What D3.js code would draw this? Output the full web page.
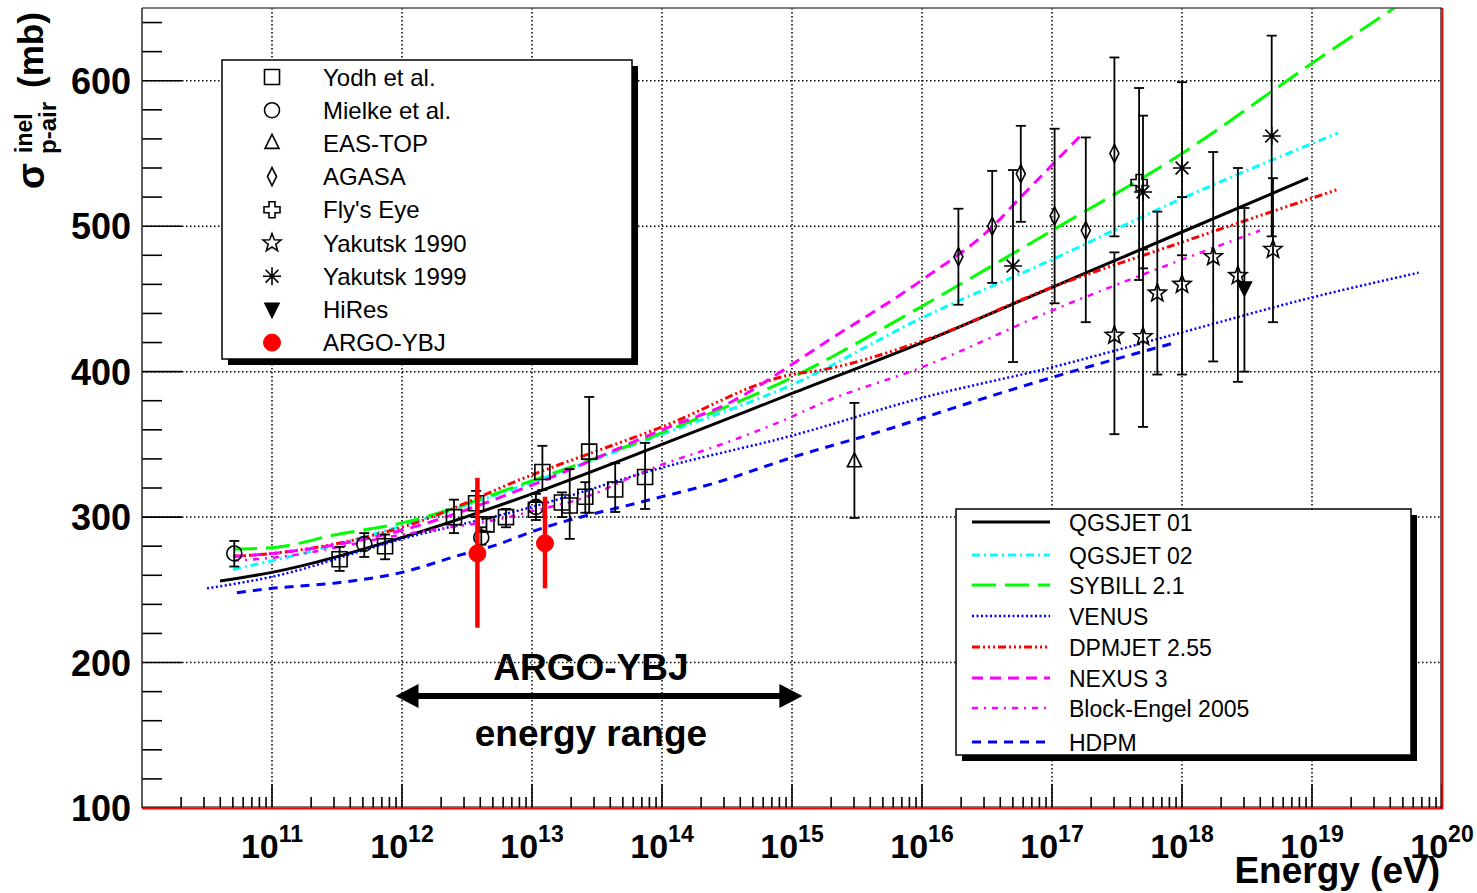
<!DOCTYPE html>
<html>
<head>
<meta charset="utf-8">
<script src="https://cdn.jsdelivr.net/npm/d3@7"></script>
<style>
  body { margin: 0; background: #fff; }
  text { font-family: "Liberation Sans", Arial, Helvetica, sans-serif; }
</style>
</head>
<body>
<div id="chart"></div>
<script>
// ---- data (energy as log10(E/eV), cross section in mb) ----
var xTickExp = [11, 12, 13, 14, 15, 16, 17, 18, 19, 20];
var yTicks = [100, 200, 300, 400, 500, 600];

// model curves [log10 E, sigma]
var qgsjet01 = [[10.6,256],[11,262],[12,286],[13,316],[14,350],[15,385],[16,420],[17,458],[18,496],[18.97,533]];
var qgsjet02 = [[10.7,264],[11,270],[12,294],[13,324],[14,357],[15,391],[16,437],[17,477],[18,519],[19.2,564]];
var sybill = [[10.7,278],[11,279],[11.5,288],[12,296],[13,325],[14,358],[15,396],[16,445],[17,497],[18,550],[19,612],[19.65,651]];
var venus = [[10.5,251],[11,259],[12,285],[13,307],[14,334],[15,356],[16,382],[17,403],[18,427],[19,451],[19.82,468]];
var dpmjet = [[10.7,273],[11,275],[12,293],[13,329],[14,362],[15,398],[15.22,401],[16,421],[17,458],[18,489],[19.19,525]];
var nexus = [[10.7,273],[11,275],[12,291],[13,322],[14,360],[14.55,380],[15,405],[15.22,418],[16,463],[16.54,499.5],[16.76,520],[17,542],[17.25,565]];
var blockEngel = [[10.7,270],[11,272],[12,288],[12.82,300],[13,304],[13.39,313],[13.88,332],[14.55,353],[15,369],[15.22,378],[16,403],[17,442],[18,477],[18.6,497]];
var hdpm = [[10.73,248],[11,251],[11.52,255],[12,262],[12.45,274],[12.73,281],[13,290],[13.91,312],[14.39,323],[15,341],[15.83,363],[16,368],[17,396],[17.95,420]];

// measurements [log10 E, sigma, low, high]
var yodh = [[11.52,271,263,279.5],[11.87,280,271,288],[12.40,300,289,312],[12.57,309.5,300,318],[12.65,295,290,299],
            [12.80,300,293,305.6],[13.03,305,300,311],[13.08,331,318.6,349],[13.23,310,300,317],[13.29,308,285,333],
            [13.41,314,303,324],[13.44,345,303,382.6],[13.64,319,303.5,337],[13.87,327.6,305.6,351]];
var mielke = [[10.71,275,266,283.6],[11.71,281.5,272.6,289],[12.61,286,281,293],[13.03,307,298,316]];
var easTop = [[15.48,338,299.4,378.5]];
var agasa = [[16.28,479,446,512],[16.54,500,461,538],[16.76,536,503,569],[17.02,507,447,567],[17.26,497,434,561],[17.48,550,493,616]];
var flysEye = [[17.67,530,463,595]];
var yakutsk1990 = [[17.48,425,357,482],[17.70,424,362,484],[17.81,454,398,510],[18.0,460,398,520],[18.24,479,407,551],[18.43,466,393,540],[18.70,484,434,533]];
var yakutsk1999 = [[16.70,472.6,406.6,538.6],[17.70,523.5,471,576],[18.0,540,480,599],[18.69,562,493,631]];
var hires = [[18.48,457.5,400,512.5]];
var argo = [[12.58,275,224,327],[13.10,282,251,314]];

var argoRange = [11.95, 15.08];   // arrow ends, log10 E
var argoRangeSigma = 177;

var models = [
  { name: "QGSJET 01", data: qgsjet01, color: "#000000", dash: null, w: 3 },
  { name: "QGSJET 02", data: qgsjet02, color: "#00ffff", dash: "8 4 2 4", w: 3 },
  { name: "SYBILL 2.1", data: sybill, color: "#00ff00", dash: "24 9", w: 3 },
  { name: "VENUS", data: venus, color: "#0000ff", dash: "2 2.5", w: 2.5 },
  { name: "DPMJET 2.55", data: dpmjet, color: "#ff0000", dash: "8 3 2 3 2 3 2 3", w: 3 },
  { name: "NEXUS 3", data: nexus, color: "#ff00ff", dash: "11 7", w: 3 },
  { name: "Block-Engel 2005", data: blockEngel, color: "#ff00ff", dash: "6 6 2 6", w: 2.5 },
  { name: "HDPM", data: hdpm, color: "#0000ff", dash: "9 7", w: 3 }
];

var measures = [
  { name: "Yodh et al.", data: yodh, shape: "square" },
  { name: "Mielke et al.", data: mielke, shape: "circle" },
  { name: "EAS-TOP", data: easTop, shape: "triangle" },
  { name: "AGASA", data: agasa, shape: "diamond" },
  { name: "Fly's Eye", data: flysEye, shape: "cross" },
  { name: "Yakutsk 1990", data: yakutsk1990, shape: "star" },
  { name: "Yakutsk 1999", data: yakutsk1999, shape: "asterisk" },
  { name: "HiRes", data: hires, shape: "down" },
  { name: "ARGO-YBJ", data: argo, shape: "dot" }
];

// ---- layout ----
var W = 1477, H = 893;
var pL = 142, pR = 1442, pT = 8, pB = 808;

var svg = d3.select("#chart").append("svg")
  .attr("width", W).attr("height", H)
  .attr("viewBox", `0 0 ${W} ${H}`);

var x = d3.scaleLog().domain([1e10, 1e20]).range([pL, pR]);
var y = d3.scaleLinear().domain([100, 650]).range([pB, pT]);
var X = function (e) { return x(Math.pow(10, e)); };

svg.append("clipPath").attr("id", "plotclip")
  .append("rect").attr("x", pL).attr("y", pT).attr("width", pR - pL).attr("height", pB - pT);

// grid
var grid = svg.append("g").attr("stroke", "#000").attr("stroke-width", 1.5).attr("stroke-dasharray", "1.5 2.5");
grid.selectAll("line.v").data(xTickExp.slice(0, -1)).enter().append("line")
  .attr("x1", function (d) { return X(d); }).attr("x2", function (d) { return X(d); })
  .attr("y1", pT).attr("y2", pB);
grid.selectAll("line.h").data(yTicks.slice(1)).enter().append("line")
  .attr("y1", function (d) { return y(d); }).attr("y2", function (d) { return y(d); })
  .attr("x1", pL).attr("x2", pR);

// ticks
var ticks = svg.append("g").attr("stroke", "#000").attr("stroke-width", 1.6);
var yMinor = d3.range(100, 650, 20);
ticks.selectAll("line.ym").data(yMinor).enter().append("line")
  .attr("x1", pL).attr("x2", function (d) { return pL + (d % 100 === 0 ? 40 : 20); })
  .attr("y1", function (d) { return y(d); }).attr("y2", function (d) { return y(d); });
var xMinor = [];
d3.range(10, 20).forEach(function (e) {
  d3.range(2, 10).forEach(function (m) { xMinor.push(m * Math.pow(10, e)); });
});
ticks.selectAll("line.xm").data(xMinor).enter().append("line")
  .attr("x1", function (d) { return x(d); }).attr("x2", function (d) { return x(d); })
  .attr("y1", pB).attr("y2", pB - 11);
ticks.selectAll("line.xM").data(xTickExp).enter().append("line")
  .attr("x1", function (d) { return X(d); }).attr("x2", function (d) { return X(d); })
  .attr("y1", pB).attr("y2", pB - 24);

// model curves
var line = d3.line()
  .x(function (d) { return X(d[0]); })
  .y(function (d) { return y(d[1]); })
  .curve(d3.curveMonotoneX);

var curves = svg.append("g").attr("clip-path", "url(#plotclip)");
curves.selectAll("path").data(models).enter().append("path")
  .attr("d", function (d) { return line(d.data); })
  .attr("fill", "none")
  .attr("stroke", function (d) { return d.color; })
  .attr("stroke-width", function (d) { return d.w; })
  .attr("stroke-dasharray", function (d) { return d.dash; });

// marker shapes
function starPath(ro, ri) {
  var p = [];
  for (var i = 0; i < 10; i++) {
    var a = -Math.PI / 2 + i * Math.PI / 5, r = i % 2 ? ri : ro;
    p.push([r * Math.cos(a), r * Math.sin(a)]);
  }
  return "M" + p.join("L") + "Z";
}
var shapes = {
  square: "M-7.5,-7.5h15v15h-15Z",
  circle: "M-7.5,0a7.5,7.5 0 1,0 15,0a7.5,7.5 0 1,0 -15,0Z",
  triangle: "M0,-9L7,5L-7,5Z",
  diamond: "M0,-9L4.5,0L0,9L-4.5,0Z",
  cross: "M-3,-8H3V-3H8V3H3V8H-3V3H-8V-3H-3Z",
  star: starPath(9.5, 4),
  asterisk: "M-9,0H9M0,-9V9M-6.4,-6.4L6.4,6.4M-6.4,6.4L6.4,-6.4",
  down: "M-7,-6L7,-6L0,8Z",
  dot: "M-8.5,0a8.5,8.5 0 1,0 17,0a8.5,8.5 0 1,0 -17,0Z"
};
function drawMarker(g, shape) {
  var filled = shape === "down" || shape === "dot";
  g.append("path").attr("d", shapes[shape])
    .attr("fill", shape === "dot" ? "#ff0000" : (filled ? "#000" : "none"))
    .attr("stroke", shape === "dot" ? "#ff0000" : "#000")
    .attr("stroke-width", shape === "dot" ? 1 : 1.6);
}

// measurements with error bars
var pts = svg.append("g");
measures.forEach(function (m) {
  var isArgo = m.shape === "dot";
  var g = pts.append("g");
  m.data.forEach(function (d) {
    var cx = X(d[0]);
    g.append("line").attr("x1", cx).attr("x2", cx)
      .attr("y1", y(d[2])).attr("y2", y(d[3]))
      .attr("stroke", isArgo ? "#ff0000" : "#000")
      .attr("stroke-width", isArgo ? 4.5 : 1.8);
    if (!isArgo) {
      [d[2], d[3]].forEach(function (v) {
        g.append("line").attr("x1", cx - 5).attr("x2", cx + 5)
          .attr("y1", y(v)).attr("y2", y(v))
          .attr("stroke", "#000").attr("stroke-width", 1.8);
      });
    }
    var mk = g.append("g").attr("transform", `translate(${cx},${y(d[1])})`);
    drawMarker(mk, m.shape);
  });
});

// ARGO-YBJ energy range annotation
var ay = y(argoRangeSigma), ax1 = X(argoRange[0]), ax2 = X(argoRange[1]);
var ann = svg.append("g");
ann.append("line").attr("x1", ax1 + 18).attr("x2", ax2 - 18).attr("y1", ay).attr("y2", ay)
  .attr("stroke", "#000").attr("stroke-width", 6);
ann.append("path").attr("d", `M${ax1},${ay}L${ax1 + 23},${ay - 12}L${ax1 + 23},${ay + 12}Z`).attr("fill", "#000");
ann.append("path").attr("d", `M${ax2},${ay}L${ax2 - 23},${ay - 12}L${ax2 - 23},${ay + 12}Z`).attr("fill", "#000");
ann.append("text").attr("x", (ax1 + ax2) / 2 - 8).attr("y", 680)
  .attr("text-anchor", "middle").attr("font-size", 37).attr("font-weight", "bold").text("ARGO-YBJ");
ann.append("text").attr("x", (ax1 + ax2) / 2 - 8).attr("y", 746)
  .attr("text-anchor", "middle").attr("font-size", 37).attr("font-weight", "bold").text("energy range");

// legend 1 (measurements)
var lg1 = svg.append("g");
lg1.append("rect").attr("x", 228).attr("y", 66).attr("width", 410).attr("height", 299).attr("fill", "#000");
lg1.append("rect").attr("x", 222).attr("y", 60).attr("width", 410).attr("height", 299)
  .attr("fill", "#fff").attr("stroke", "#000").attr("stroke-width", 1.5);
measures.forEach(function (m, i) {
  var ry = 77 + i * 33.2;
  var mk = lg1.append("g").attr("transform", `translate(272,${ry})`);
  drawMarker(mk, m.shape);
  lg1.append("text").attr("x", 323).attr("y", ry + 8.5).attr("font-size", 24).text(m.name);
});

// legend 2 (models)
var lg2 = svg.append("g");
lg2.append("rect").attr("x", 962).attr("y", 515).attr("width", 455).attr("height", 246).attr("fill", "#000");
lg2.append("rect").attr("x", 956).attr("y", 509).attr("width", 455).attr("height", 246)
  .attr("fill", "#fff").attr("stroke", "#000").attr("stroke-width", 1.5);
var lg2Rows = [523, 556, 586, 617, 648, 679, 709, 743];
models.forEach(function (m, i) {
  var ry = lg2Rows[i];
  lg2.append("line").attr("x1", 972).attr("x2", 1050).attr("y1", ry - 1).attr("y2", ry - 1)
    .attr("stroke", m.color).attr("stroke-width", m.w).attr("stroke-dasharray", m.dash);
  lg2.append("text").attr("x", 1069).attr("y", ry + 8).attr("font-size", 23).text(m.name);
});

// frame
svg.append("line").attr("x1", pL).attr("x2", pR).attr("y1", pT).attr("y2", pT).attr("stroke", "#555").attr("stroke-width", 1.5);
svg.append("line").attr("x1", pL).attr("x2", pL).attr("y1", pT).attr("y2", pB).attr("stroke", "#333").attr("stroke-width", 1.6);
svg.append("line").attr("x1", pL).attr("x2", pR).attr("y1", pB - 1).attr("y2", pB - 1).attr("stroke", "#000").attr("stroke-width", 1.2);
svg.append("line").attr("x1", pL).attr("x2", pR + 1).attr("y1", pB + 0.5).attr("y2", pB + 0.5).attr("stroke", "#ff0000").attr("stroke-width", 1.8);
svg.append("line").attr("x1", pR - 1).attr("x2", pR - 1).attr("y1", pT).attr("y2", pB).attr("stroke", "#000").attr("stroke-width", 1.2);
svg.append("line").attr("x1", pR + 0.5).attr("x2", pR + 0.5).attr("y1", pT).attr("y2", pB + 1).attr("stroke", "#ff0000").attr("stroke-width", 1.8);

// y tick labels
svg.append("g").selectAll("text").data(yTicks).enter().append("text")
  .attr("x", 131).attr("y", function (d) { return y(d) + 13; })
  .attr("text-anchor", "end").attr("font-size", 36).attr("font-weight", "bold")
  .text(function (d) { return d; });

// x tick labels 10^n
var xl = svg.append("g").selectAll("text").data(xTickExp).enter().append("text")
  .attr("x", function (d) { return X(d); }).attr("y", 858)
  .attr("text-anchor", "middle").attr("font-size", 34).attr("font-weight", "bold");
xl.append("tspan").text("10");
xl.append("tspan").attr("dy", -16).attr("font-size", 23).text(function (d) { return d; });

// axis titles
svg.append("text").attr("x", 1440).attr("y", 883).attr("text-anchor", "end")
  .attr("font-size", 37).attr("font-weight", "bold").text("Energy (eV)");

var yt = svg.append("g").attr("transform", "translate(44,0) rotate(-90)").attr("font-weight", "bold");
yt.append("text").attr("x", -189).attr("y", 0).attr("font-size", 38).text("σ");
yt.append("text").attr("x", -153).attr("y", -12).attr("font-size", 23).text("inel");
yt.append("text").attr("x", -154).attr("y", 12).attr("font-size", 24).text("p-air");
yt.append("text").attr("x", -88).attr("y", -1).attr("font-size", 35).text("(mb)");
</script>
</body>
</html>
